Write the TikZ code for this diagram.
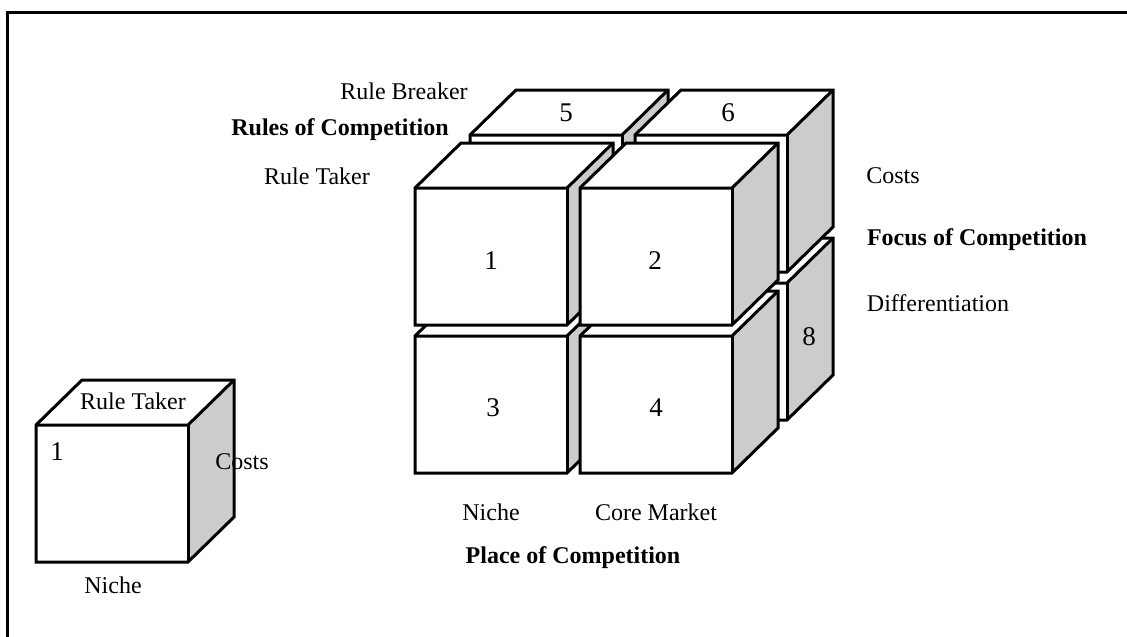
\documentclass[tikz,border=0pt]{standalone}
\usepackage{fontspec}
\setmainfont{Liberation Serif}
\definecolor{sidegray}{HTML}{CCCCCC}
\tikzset{
  cubeline/.style={draw=black, line width=3pt, line join=miter},
  lbl/.style={inner sep=0pt, font=\fontsize{24}{28}\selectfont},
  blbl/.style={inner sep=0pt, font=\fontsize{24}{28}\selectfont\bfseries},
  num/.style={inner sep=0pt, font=\fontsize{27}{30}\selectfont}
}
\newcommand{\drawcube}[2]{%
  \fill[white] (#1,#2) rectangle ++(152,137);
  \fill[white] (#1,#2) -- ++(46,-45) -- ++(152,0) -- ++(-46,45) -- cycle;
  \fill[sidegray] (#1+152,#2) -- ++(46,-45) -- ++(0,137) -- ++(-46,45) -- cycle;
  \draw[cubeline] (#1,#2) -- ++(46,-45) -- ++(152,0) -- ++(0,137) -- ++(-46,45) -- ++(-152,0) -- cycle;
  \draw[cubeline] (#1,#2) -- ++(152,0) -- ++(46,-45);
  \draw[cubeline] (#1+152,#2) -- ++(0,137);
}
\begin{document}
\begin{tikzpicture}[x=1pt,y=-1pt]
\useasboundingbox (0,0) rectangle (1127,637);
\fill[white] (0,0) rectangle (1127,637);
\draw[line width=3pt] (7,640) -- (7,12) -- (1130,12);

% back layer: 7, 8, 5, 6
\drawcube{470}{283}
\drawcube{635}{283}
\drawcube{470}{135}
\drawcube{635}{135}
% front layer: 3, 4, 1, 2
\drawcube{415}{336}
\drawcube{580}{336}
\drawcube{415}{188}
\drawcube{580}{188}

% small cube
\drawcube{36}{425}

% numbers
\node[num] (n1) at (491,261) {1};
\node[num] (n2) at (655,261) {2};
\node[num] (n3) at (493,408) {3};
\node[num] (n4) at (656,408) {4};
\node[num] (n5) at (566,113) {5};
\node[num] (n6) at (728,113) {6};
\node[num] (n8) at (809,337) {8};

% labels
\node[lbl] (rb) at (404,91) {Rule Breaker};
\node[blbl] (roc) at (340,130) {Rules of Competition};
\node[lbl] (rt) at (317,176) {Rule Taker};
\node[lbl] (costs) at (893,176) {Costs};
\node[blbl] (foc) at (977,240) {Focus of Competition};
\node[lbl] (diff) at (938,303) {Differentiation};
\node[lbl] (niche) at (491,512) {Niche};
\node[lbl] (core) at (656,512) {Core Market};
\node[blbl] (poc) at (573,558) {Place of Competition};

% small cube labels
\node[lbl] (srt) at (133,401) {Rule Taker};
\node[num] (s1) at (57,452) {1};
\node[lbl] (scosts) at (242,462) {Costs};
\node[lbl] (sniche) at (113,585) {Niche};
\end{tikzpicture}
\end{document}
